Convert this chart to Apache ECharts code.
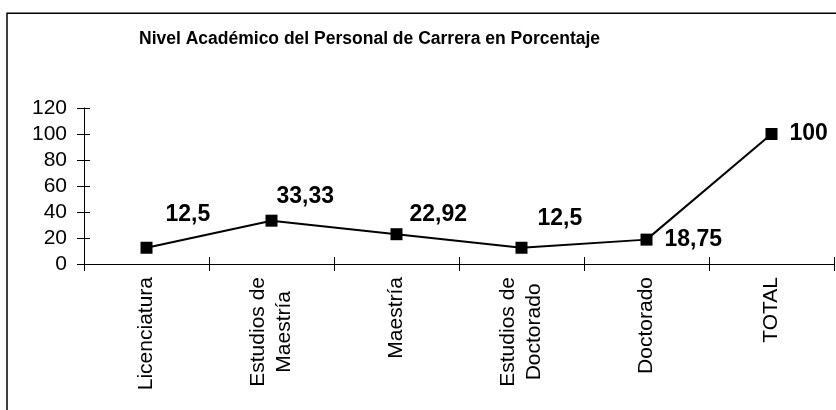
<!DOCTYPE html>
<html>
<head>
<meta charset="utf-8">
<script src="https://cdn.jsdelivr.net/npm/echarts@6/dist/echarts.min.js"></script>
<style>
  html, body { margin: 0; padding: 0; background: #fff; }
  #chart { width: 836px; height: 410px; }
</style>
</head>
<body>
<div id="chart"></div>
<script>
// datos del gráfico
const categories = ['Licenciatura', 'Estudios de\nMaestría', 'Maestría', 'Estudios de\nDoctorado', 'Doctorado', 'TOTAL'];
const values = [12.5, 33.33, 22.92, 12.5, 18.75, 100];
const yMin = 0;
const yMax = 120;
const yStep = 20;

// desplazamiento de cada etiqueta de dato (como en el original)
const labelOffsets = [[13, -33], [-1, -24], [7, -20], [10, -29], [12, 0], [12, 0]];

const FONT = "'Liberation Sans', Arial, sans-serif";
const chart = echarts.init(document.getElementById('chart'));

const option = {
  animation: false,
  backgroundColor: '#fff',
  title: {
    text: 'Nivel Académico del Personal de Carrera en Porcentaje',
    left: 139,
    top: 30,
    padding: 0,
    textStyle: { fontFamily: FONT, fontSize: 17.5, fontWeight: 'bold', color: '#000' }
  },
  graphic: [{
    type: 'rect',
    silent: true,
    shape: { x: 7, y: 13.3, width: 900, height: 500 },
    style: { fill: 'none', stroke: '#000', lineWidth: 1.5 }
  }],
  grid: { left: 84, right: 2, top: 108, bottom: 146, containLabel: false, outerBoundsMode: 'none' },
  xAxis: [{
    type: 'category',
    data: categories,
    axisLine: { lineStyle: { color: '#000', width: 1 } },
    axisTick: { show: true, length: 7, lineStyle: { color: '#000' } },
    axisLabel: {
      rotate: 90,
      margin: 13,
      interval: 0,
      color: '#000',
      formatter: function (v) {
        return v.split('\n').map(function (s) { return '{c|' + s + '}'; }).join('\n');
      },
      rich: {
        c: { align: 'center', fontFamily: FONT, fontSize: 21, lineHeight: 26, color: '#000' }
      }
    },
    splitLine: { show: false }
  }, {
    // marcas cruzadas hacia arriba
    type: 'category',
    data: categories,
    position: 'top',
    offset: -156,
    axisLine: { show: false },
    axisTick: { show: true, length: 7, lineStyle: { color: '#000' } },
    axisLabel: { show: false },
    splitLine: { show: false }
  }],
  yAxis: [{
    type: 'value',
    min: yMin,
    max: yMax,
    interval: yStep,
    axisLine: { show: true, lineStyle: { color: '#000', width: 1 } },
    axisTick: { show: true, length: 7, lineStyle: { color: '#000' } },
    axisLabel: { fontFamily: FONT, fontSize: 21, color: '#000', margin: 17 },
    splitLine: { show: false }
  }, {
    type: 'value',
    position: 'right',
    offset: -750,
    min: yMin,
    max: yMax,
    interval: yStep,
    axisLine: { show: false },
    axisTick: { show: true, length: 6, lineStyle: { color: '#000' } },
    axisLabel: { show: false },
    splitLine: { show: false }
  }],
  series: [{
    type: 'line',
    xAxisIndex: 0,
    yAxisIndex: 0,
    data: values.map(function (v, i) {
      return { value: v, label: { offset: labelOffsets[i] } };
    }),
    symbol: 'rect',
    symbolSize: 12,
    itemStyle: { color: '#000' },
    lineStyle: { color: '#000', width: 2 },
    label: {
      show: true,
      position: 'right',
      distance: 0,
      fontFamily: FONT,
      fontSize: 23,
      fontWeight: 'bold',
      color: '#000',
      formatter: function (p) { return String(p.value).replace('.', ','); }
    }
  }]
};

chart.setOption(option);
</script>
</body>
</html>
